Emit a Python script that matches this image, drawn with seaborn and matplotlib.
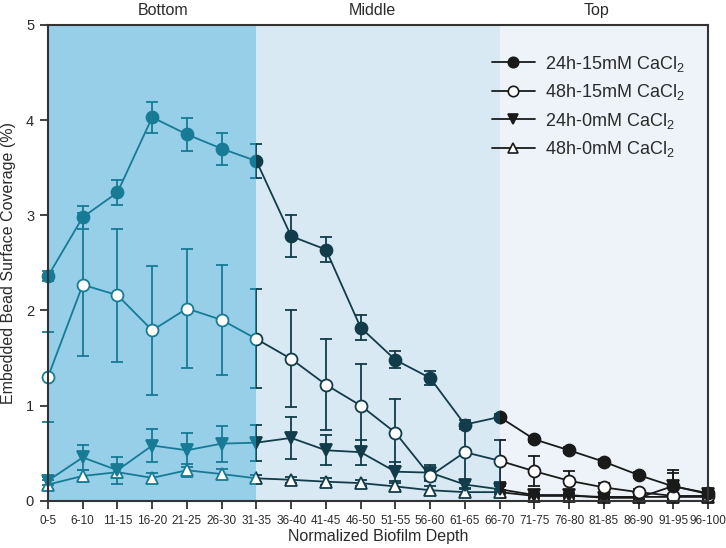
import numpy as np
import pandas as pd
import matplotlib
matplotlib.use("Agg")
import matplotlib.pyplot as plt
from matplotlib.patches import Rectangle
from matplotlib.lines import Line2D
import seaborn as sns

categories = ["0-5", "6-10", "11-15", "16-20", "21-25", "26-30", "31-35", "36-40",
              "41-45", "46-50", "51-55", "56-60", "61-65", "66-70", "71-75", "76-80",
              "81-85", "86-90", "91-95", "96-100"]

mean_24h_15 = [2.36, 2.98, 3.24, 4.03, 3.85, 3.70, 3.57, 2.78, 2.64, 1.82,
               1.48, 1.29, 0.80, 0.88, 0.645, 0.53, 0.41, 0.27, 0.15, 0.08]
err_24h_15 = [0.05, 0.12, 0.13, 0.16, 0.17, 0.17, 0.18, 0.22, 0.13, 0.13,
              0.09, 0.07, 0.05, 0.03, 0.03, 0.03, 0.03, 0.03, 0.14, 0.02]

mean_48h_15 = [1.30, 2.27, 2.16, 1.79, 2.02, 1.90, 1.70, 1.49, 1.22, 1.00,
               0.715, 0.26, 0.51, 0.42, 0.31, 0.21, 0.14, 0.09, 0.05, 0.05]
err_48h_15 = [0.47, 0.75, 0.70, 0.68, 0.63, 0.58, 0.52, 0.51, 0.48, 0.44,
              0.35, 0.05, 0.30, 0.22, 0.16, 0.10, 0.05, 0.03, 0.02, 0.02]

mean_24h_0 = [0.21, 0.455, 0.32, 0.58, 0.53, 0.60, 0.61, 0.66, 0.53, 0.51,
              0.305, 0.295, 0.17, 0.12, 0.06, 0.06, 0.03, 0.03, 0.155, 0.07]
err_24h_0 = [0.04, 0.13, 0.14, 0.17, 0.18, 0.19, 0.19, 0.22, 0.16, 0.13,
             0.10, 0.08, 0.04, 0.03, 0.02, 0.02, 0.02, 0.02, 0.17, 0.02]

mean_48h_0 = [0.17, 0.26, 0.30, 0.24, 0.32, 0.28, 0.235, 0.22, 0.20, 0.185,
              0.15, 0.11, 0.09, 0.09, 0.05, 0.05, 0.04, 0.04, 0.04, 0.04]
err_48h_0 = [0.05, 0.06, 0.06, 0.05, 0.07, 0.05, 0.04, 0.03, 0.04, 0.03,
             0.04, 0.04, 0.03, 0.02, 0.02, 0.02, 0.02, 0.02, 0.02, 0.02]

series_names = ["48h-0mM CaCl$_2$", "24h-0mM CaCl$_2$", "48h-15mM CaCl$_2$", "24h-15mM CaCl$_2$"]
series_means = [mean_48h_0, mean_24h_0, mean_48h_15, mean_24h_15]
series_errs = [err_48h_0, err_24h_0, err_48h_15, err_24h_15]
series_markers = ["^", "v", "o", "o"]
series_filled = [False, True, False, True]

region_names = ["Bottom", "Middle", "Top"]
region_bounds = [(0, 6), (6, 13), (13, 19)]
region_bg = ["#97cfe9", "#d9e9f3", "#edf3f8"]
region_fg = ["#177b95", "#123c49", "#1a1a1a"]
region_label_x = [3.3, 9.35, 15.8]

sns.set_theme(style="white")
plt.rcParams["font.family"] = ["Liberation Sans", "DejaVu Sans"]
plt.rcParams["mathtext.default"] = "regular"
text_color = "#2b2b2b"

# long-form data: each point as (mean - err, mean + err) so min/max gives the bar
rows = []
for name, m, e in zip(series_names, series_means, series_errs):
    for i, (mm, ee) in enumerate(zip(m, e)):
        rows.append({"series": name, "pos": i, "value": mm - ee})
        rows.append({"series": name, "pos": i, "value": mm + ee})
df = pd.DataFrame(rows)

fig = plt.figure(figsize=(7.26, 5.48), dpi=100)
ax = fig.add_axes([48 / 726, 1 - 500.7 / 548, 660 / 726, 475.7 / 548])
ax.set_facecolor("white")

for (x0, x1), bg in zip(region_bounds, region_bg):
    ax.axvspan(x0, x1, color=bg, lw=0, zorder=0)

for (x0, x1), fg in zip(region_bounds, region_fg):
    clip_x0 = -1 if x0 == 0 else x0
    clip_x1 = 20 if x1 == 19 else x1
    for name, mk, filled in zip(series_names, series_markers, series_filled):
        n_lines = len(ax.lines)
        n_coll = len(ax.collections)
        sns.lineplot(data=df[df["series"] == name], x="pos", y="value",
                     errorbar=lambda v: (v.min(), v.max()), err_style="bars",
                     err_kws=dict(capsize=4.6, elinewidth=1.3, capthick=1.3),
                     color=fg, marker=mk, markersize=8.6,
                     markerfacecolor=fg if filled else "white",
                     markeredgecolor=fg, markeredgewidth=1.3, lw=1.3,
                     ax=ax, legend=False)
        rect = Rectangle((clip_x0, -1), clip_x1 - clip_x0, 8, transform=ax.transData)
        for art in ax.lines[n_lines:]:
            art.set_clip_path(rect)
            if art.get_marker() in ("o", "^", "v"):
                art.set_zorder(4)
            else:
                art.set_zorder(3)
        for art in ax.collections[n_coll:]:
            art.set_clip_path(rect)
            art.set_zorder(3)

ax.set_xlim(0, 19)
ax.set_ylim(0, 5)
ax.set_xticks(range(len(categories)))
ax.set_xticklabels(categories, fontsize=8.5, color=text_color)
ax.set_yticks([0, 1, 2, 3, 4, 5])
ax.set_yticklabels(["0", "1", "2", "3", "4", "5"], fontsize=10.5, color=text_color)
ax.tick_params(axis="both", which="major", direction="out", length=6, width=1.3,
               color="#333333", pad=4, bottom=True, left=True)
for sp in ax.spines.values():
    sp.set_visible(True)
    sp.set_color("#333333")
    sp.set_linewidth(1.5)
    sp.set_zorder(5)

ax.set_xlabel("Normalized Biofilm Depth", fontsize=11.5, color=text_color, labelpad=2)
ax.set_ylabel("Embedded Bead Surface Coverage (%)", fontsize=11.5, color=text_color, labelpad=7)

for name, lx in zip(region_names, region_label_x):
    ax.text(lx, 1.031, name, transform=ax.get_xaxis_transform(), ha="center",
            va="center", fontsize=11.5, color=text_color)

handles = []
labels = []
legend_order = [3, 2, 1, 0]
for idx in legend_order:
    handles.append(Line2D([0], [0], color="#1a1a1a", lw=1.3, marker=series_markers[idx],
                          markersize=7.5, markerfacecolor="#1a1a1a" if series_filled[idx] else "white",
                          markeredgecolor="#1a1a1a", markeredgewidth=1.2))
    labels.append(series_names[idx])
leg = ax.legend(handles, labels, loc="upper left", bbox_to_anchor=(0.672, 0.94),
                frameon=False, fontsize=13, handlelength=2.4, handletextpad=0.55,
                labelspacing=0.47, borderpad=0, borderaxespad=0)
for t in leg.get_texts():
    t.set_color(text_color)

fig.savefig("out.png", dpi=100)
